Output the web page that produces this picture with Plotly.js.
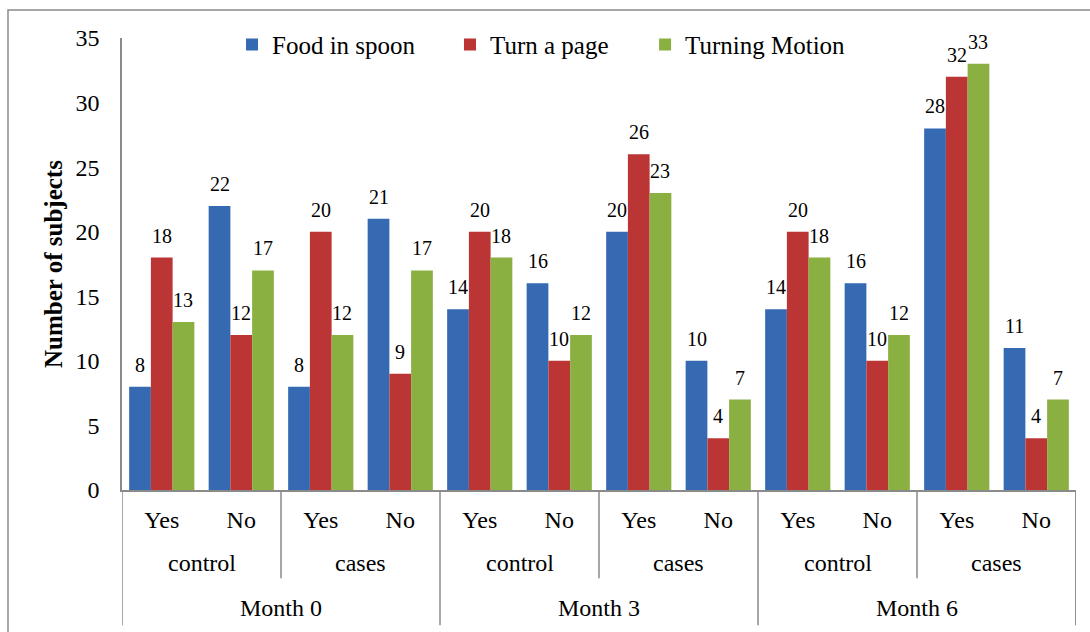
<!DOCTYPE html>
<html><head><meta charset="utf-8">
<script src="https://cdn.plot.ly/plotly-3.0.1.min.js"></script>
<style>html,body{margin:0;padding:0;background:#fff}#chart{width:1090px;height:632px}</style>
</head><body><div id="chart"></div>
<script>
const answers = ['Yes','No','Yes','No','Yes','No','Yes','No','Yes','No','Yes','No'];
const groups = ['control','cases','control','cases','control','cases'];
const months = ['Month 0','Month 3','Month 6'];
const seriesNames = ['Food in spoon','Turn a page','Turning Motion'];
const foodInSpoon = [8,22,8,21,14,16,20,10,14,16,28,11];
const turnAPage = [18,12,20,9,20,10,26,4,20,10,32,4];
const turningMotion = [13,17,12,17,18,12,23,7,18,12,33,7];
const yTicks = [0,5,10,15,20,25,30,35];

const seriesValues = [foodInSpoon, turnAPage, turningMotion];
const colors = ['#3569b1', '#bb3535', '#8bb042'];
const BARGAP = 0.18;
const idx = answers.map((_, i) => i);
const gray = '#8a8a8a';
const f = (size) => ({family: 'Liberation Serif', size: size, color: '#000000'});
const legendIds = ['legend', 'legend2', 'legend3'];
const legendX = [0.1153, 0.3438, 0.5483];

const traces = seriesValues.map((vals, k) => ({
  type: 'bar', name: seriesNames[k], x: idx, y: vals,
  marker: {color: colors[k]}, legend: legendIds[k]
}));

const annotations = [];
const slot = (1 - BARGAP) / seriesValues.length;
seriesValues.forEach((vals, k) => {
  vals.forEach((v, i) => {
    annotations.push({
      x: i + (k - (seriesValues.length - 1) / 2) * slot, xref: 'x',
      y: v, yref: 'y', text: String(v), showarrow: false,
      yanchor: 'middle', yshift: 22, font: f(20)
    });
  });
});
groups.forEach((g, j) => {
  annotations.push({x: 2 * j + 0.5, xref: 'x', y: -0.1615, yref: 'paper', text: g,
    showarrow: false, yanchor: 'middle', font: f(24)});
});
months.forEach((m, j) => {
  annotations.push({x: 4 * j + 1.5, xref: 'x', y: -0.261, yref: 'paper', text: m,
    showarrow: false, yanchor: 'middle', font: f(24)});
});

const shapes = [];
for (let i = -1; i < answers.length; i += 2) {
  const b = i + 0.5;
  const isMonth = (i + 1) % 4 === 0;
  const long = (i === -1 || isMonth || i === answers.length - 1);
  shapes.push({type: 'line', xref: 'x', yref: 'paper', x0: b, x1: b, y0: 0, y1: long ? -0.299 : -0.195,
    line: {color: gray, width: 1.5}});
}
shapes.push({type: 'line', xref: 'x', yref: 'paper', x0: answers.length - 0.5, x1: answers.length - 0.5, y0: 0, y1: -0.299,
  line: {color: gray, width: 1.5}});
shapes.push({type: 'rect', xref: 'paper', yref: 'paper', x0: -0.1195, x1: 1.03, y0: -0.35, y1: 1.062,
  line: {color: gray, width: 1.5}});

const layout = {
  width: 1090, height: 632,
  margin: {l: 122, r: 14, t: 38, b: 142},
  barmode: 'group', bargap: BARGAP, bargroupgap: 0,
  showlegend: true,
  xaxis: {range: [-0.5, answers.length - 0.5], tickvals: idx, ticktext: answers,
    ticks: '', ticklabelstandoff: 7, tickfont: f(24),
    showline: true, linecolor: gray, linewidth: 1.5, showgrid: false, zeroline: false},
  yaxis: {range: [0, 35], tickvals: yTicks, ticks: '', ticklabelstandoff: 16,
    tickfont: f(24),
    showline: true, linecolor: gray, linewidth: 1.5, showgrid: false, zeroline: false,
    title: {text: '<b>Number of subjects</b>', font: f(25), standoff: 6}},
  annotations: annotations, shapes: shapes
};
legendIds.forEach((id, k) => {
  layout[id] = {orientation: 'h', x: legendX[k], xanchor: 'left', y: 0.985, yanchor: 'middle',
    font: f(25), bgcolor: 'rgba(0,0,0,0)'};
});
Plotly.newPlot('chart', traces, layout, {displayModeBar: false});
</script></body></html>
